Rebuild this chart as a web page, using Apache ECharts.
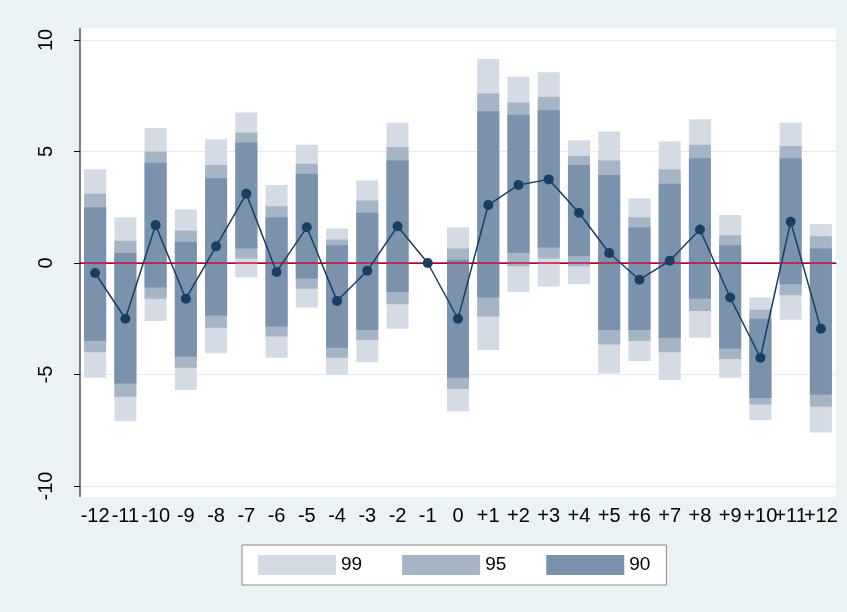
<!DOCTYPE html>
<html><head><meta charset="utf-8">
<script src="https://cdn.jsdelivr.net/npm/echarts@6/dist/echarts.min.js"></script>
<style>html,body{margin:0;padding:0;background:#eaf2f3}#main{width:847px;height:612px}</style>
</head><body><div id="main"></div>
<script>
var cats = ['-12','-11','-10','-9','-8','-7','-6','-5','-4','-3','-2','-1','0','+1','+2','+3','+4','+5','+6','+7','+8','+9','+10','+11','+12'];
var coef = [-0.45,-2.5,1.7,-1.6,0.75,3.1,-0.4,1.6,-1.7,-0.35,1.65,0,-2.5,2.6,3.5,3.75,2.25,0.45,-0.75,0.1,1.5,-1.55,-4.25,1.85,-2.95];
var lo90 = [-3.5,-5.4,-1.1,-4.2,-2.35,0.65,-2.85,-0.7,-3.8,-3.0,-1.3,null,-5.15,-1.55,0.45,0.7,0.3,-3.0,-3.0,-3.35,-1.6,-3.85,-6.05,-0.95,-5.9];
var hi90 = [2.5,0.45,4.5,0.95,3.8,5.4,2.05,4.0,0.8,2.25,4.6,null,0.15,6.8,6.65,6.85,4.4,3.95,1.6,3.55,4.7,0.8,-2.5,4.7,0.65];
var lo95 = [-4.0,-6.0,-1.6,-4.7,-2.9,0.2,-3.3,-1.15,-4.25,-3.45,-1.85,null,-5.65,-2.4,-0.15,0.2,-0.15,-3.65,-3.5,-4.0,-2.15,-4.3,-6.35,-1.45,-6.45];
var hi95 = [3.1,1.0,5.0,1.45,4.4,5.85,2.55,4.45,1.05,2.8,5.2,null,0.65,7.6,7.2,7.45,4.8,4.6,2.05,4.2,5.3,1.25,-2.1,5.25,1.2];
var lo99 = [-5.15,-7.1,-2.6,-5.7,-4.05,-0.65,-4.25,-2.0,-5.0,-4.45,-2.95,null,-6.65,-3.9,-1.3,-1.05,-0.95,-4.95,-4.4,-5.25,-3.35,-5.15,-7.05,-2.55,-7.6];
var hi99 = [4.2,2.05,6.05,2.4,5.55,6.75,3.5,5.3,1.55,3.7,6.3,null,1.6,9.15,8.35,8.55,5.5,5.9,2.9,5.45,6.45,2.15,-1.55,6.3,1.75];

var chart = echarts.init(document.getElementById('main'));
var font = 'Liberation Sans';

function ciSeries(name, lo, hi, color) {
    var data = lo.map(function(v, i) { return [i, v, hi[i]]; }).filter(function(d) { return d[1] != null; });
    return {
        name: name,
        type: 'custom',
        itemStyle: { color: color },
        renderItem: function(params, api) {
            var a = api.coord([api.value(0), api.value(1)]);
            var b = api.coord([api.value(0), api.value(2)]);
            var w = 22;
            return {
                type: 'rect',
                shape: { x: a[0] - w / 2, y: b[1], width: w, height: a[1] - b[1] },
                style: { fill: color }
            };
        },
        encode: { x: 0, y: [1, 2] },
        data: data
    };
}

var option = {
    backgroundColor: '#eaf2f3',
    animation: false,
    grid: { left: 80, right: 11, top: 40, bottom: 126 },
    graphic: [
        { type: 'rect', z: -10, shape: { x: 80, y: 28, width: 756, height: 469 }, style: { fill: '#fff' } },
        { type: 'line', z: 10, shape: { x1: 80, y1: 28, x2: 80, y2: 497 }, style: { stroke: '#000', lineWidth: 1 } }
    ],
    legend: {
        left: 242, top: 545, width: 425,
        data: ['99', '95', '90'],
        icon: 'rect', itemWidth: 78, itemHeight: 20, itemGap: 40,
        backgroundColor: '#fff', borderColor: '#888', borderWidth: 1,
        padding: [10, 16],
        textStyle: { fontSize: 19, color: '#000', fontFamily: font }
    },
    xAxis: {
        type: 'category', data: cats, offset: 11,
        axisLine: { lineStyle: { color: '#000' } },
        axisTick: { alignWithLabel: true, length: 6, lineStyle: { color: '#000' } },
        axisLabel: { interval: 0, fontSize: 20, color: '#000', fontFamily: font, margin: 9 }
    },
    yAxis: {
        type: 'value', min: -10, max: 10, interval: 5,
        axisLine: { show: false },
        axisTick: { show: true, length: 6, lineStyle: { color: '#000' } },
        axisLabel: { rotate: 90, fontSize: 20, color: '#000', fontFamily: font, margin: 24 },
        splitLine: { lineStyle: { color: '#e3ebef' } }
    },
    series: [
        ciSeries('99', lo99, hi99, '#d4dbe5'),
        ciSeries('95', lo95, hi95, '#a6b5c6'),
        ciSeries('90', lo90, hi90, '#7a92ac'),
        {
            type: 'line', data: coef, z: 5,
            symbol: 'circle', symbolSize: 10,
            itemStyle: { color: '#1a3e63' },
            lineStyle: { color: '#1a3e63', width: 1.5 },
            markLine: {
                silent: true, symbol: 'none', label: { show: false },
                lineStyle: { color: '#c4103e', width: 1.5, type: 'solid' },
                data: [{ yAxis: 0 }]
            }
        }
    ]
};
chart.setOption(option);
</script>
</body></html>
